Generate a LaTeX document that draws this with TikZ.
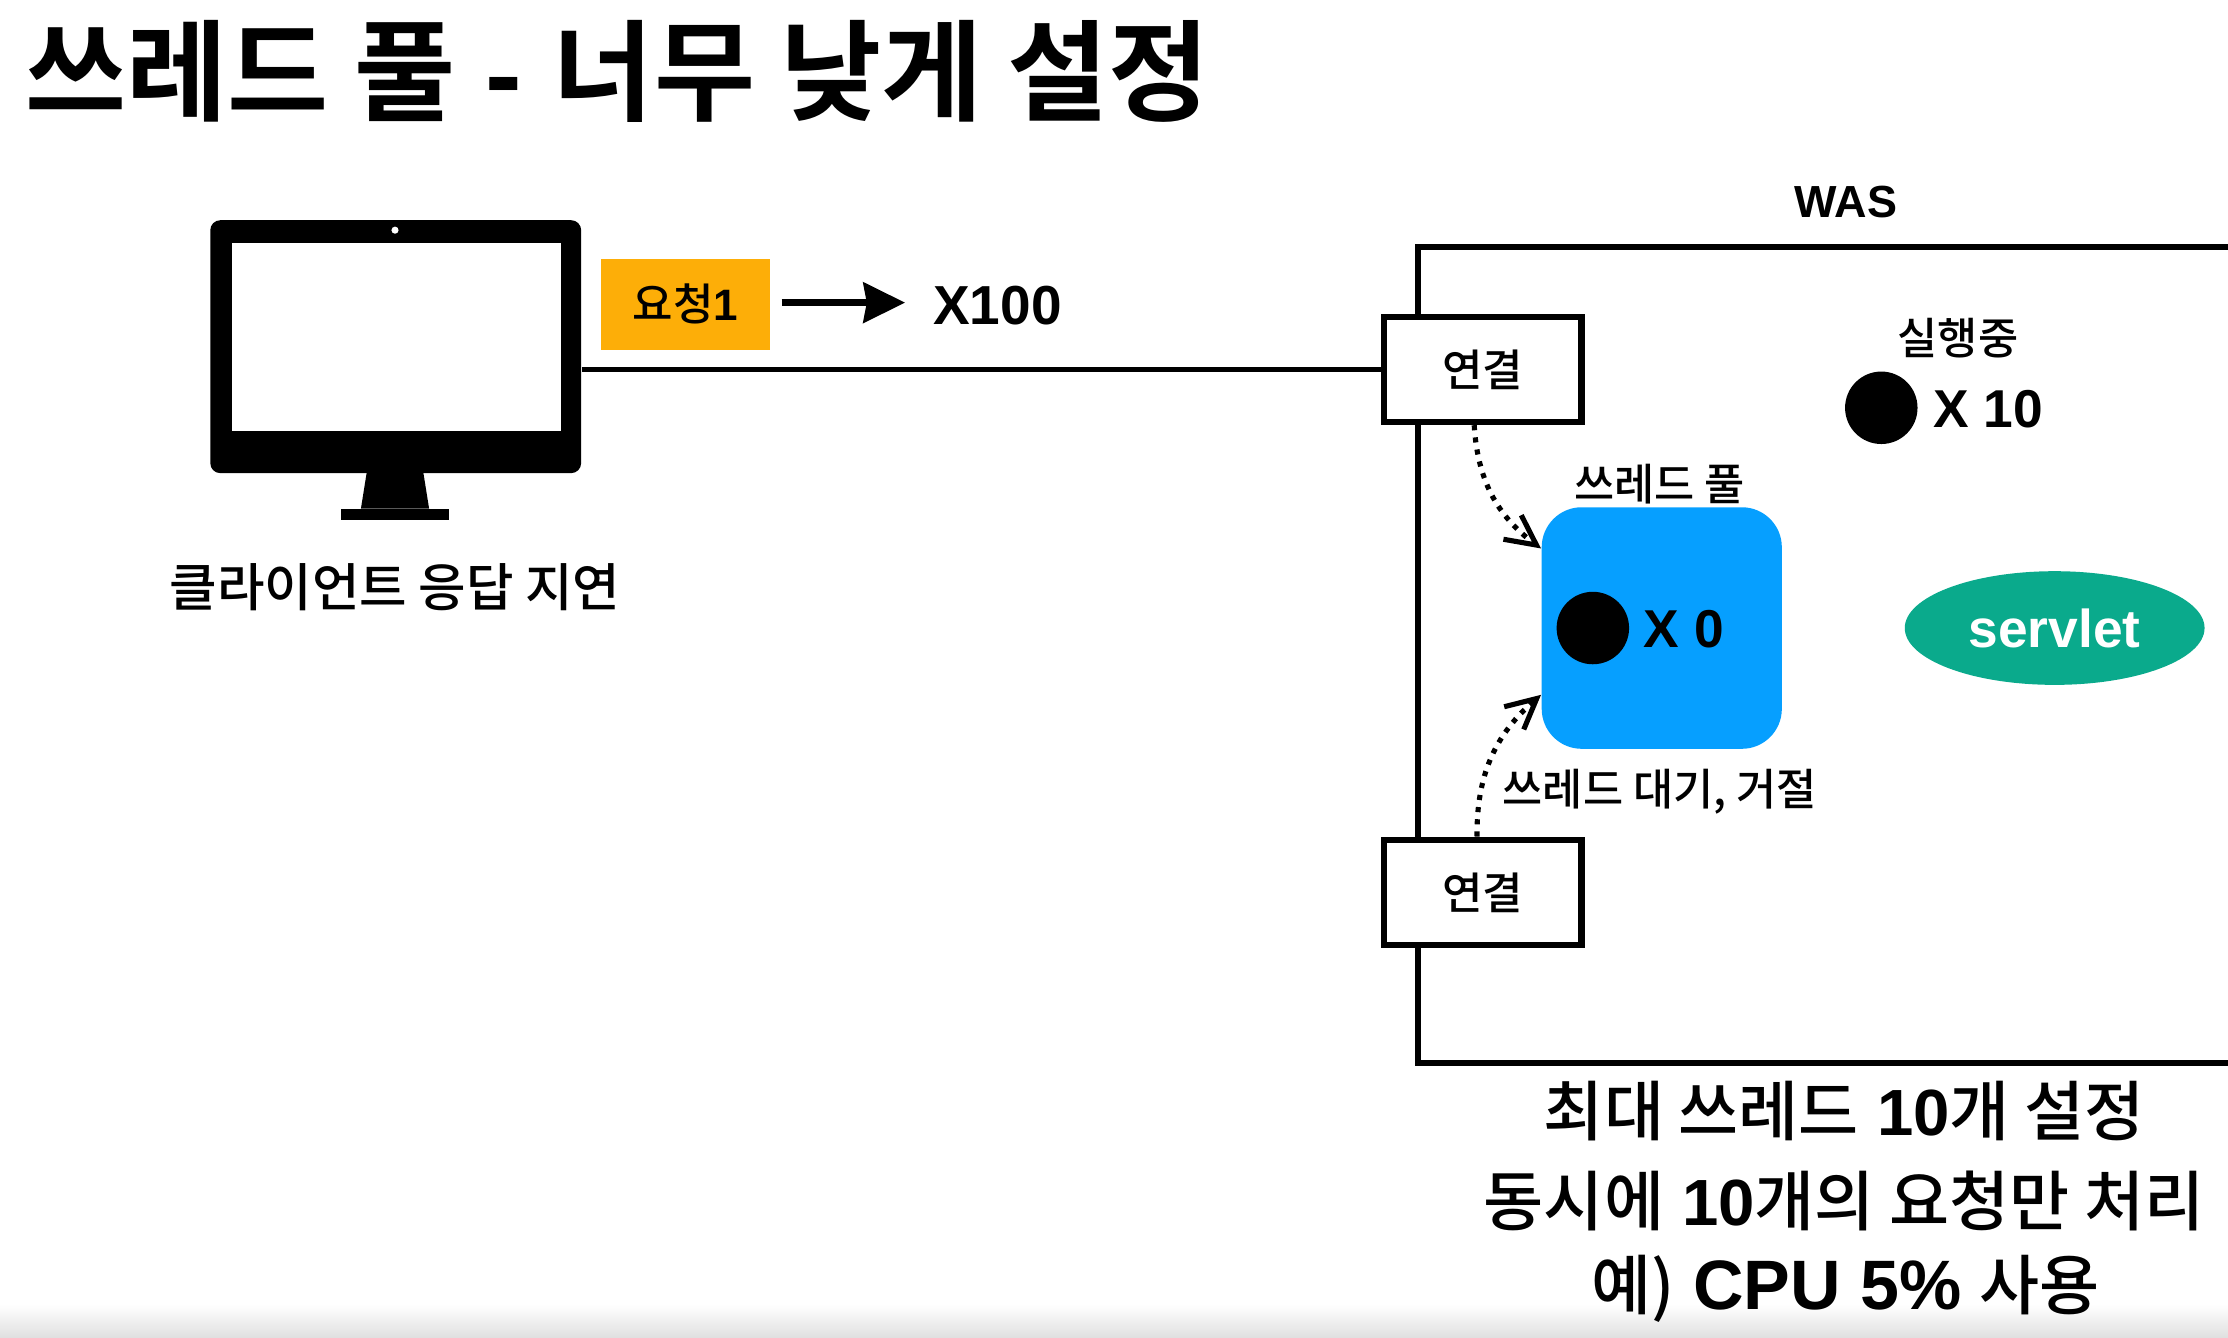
\documentclass[tikz,border=0pt]{standalone}
\usepackage{fontspec}
\setmainfont{Liberation Sans}
\newfontfamily\krfont[BoldFont={Noto Sans CJK KR Bold}]{Noto Sans CJK KR Medium}
\newcommand{\kr}[1]{{\krfont #1}}
\usetikzlibrary{arrows.meta}
\usetikzlibrary{shapes.geometric}
\definecolor{poolblue}{HTML}{069FFF}
\definecolor{reqorange}{HTML}{FDAE08}
\definecolor{servletgreen}{HTML}{0AAA8C}
\def\ux{0.4264pt}
\tikzstyle{connbox}=[draw,fill=white,line width=4.5*\ux,minimum width=139*\ux,minimum height=74*\ux,inner sep=0pt,font=\fontsize{13.2}{16}\selectfont]
\tikzstyle{smalllabel}=[inner sep=0pt,font=\fontsize{13.1}{16}\selectfont]
\tikzstyle{countlabel}=[inner sep=0pt,font=\fontsize{16}{19}\selectfont\bfseries]
\tikzstyle{threaddot}=[circle,fill=black,minimum size=51*\ux,inner sep=0pt]
\tikzstyle{waitarrow}=[-{Straight Barb[length=9pt,width=9pt]},line width=3.6*\ux,dash pattern=on 3.6*\ux off 5*\ux]
\tikzstyle{biglabel}=[inner sep=0pt,font=\fontsize{19.6}{23}\selectfont]
\begin{document}
\begin{tikzpicture}[x=\ux,y=-\ux]
  \useasboundingbox (0,0) rectangle (1568,941.6);
  \shade[top color=white,bottom color=gray!25] (0,918) rectangle (1568,941.6); % bottom edge
  \node[anchor=west,inner sep=0pt,font=\fontsize{33}{40}\selectfont\bfseries] (title) at (17.5,50) {\kr{쓰레드 풀} - \kr{너무 낮게 설정}};
  % client
  \node[fill=black,rounded corners=3pt,minimum width=261*\ux,minimum height=178*\ux,inner sep=0pt] (monitor) at (278.5,244) {};
  \node[fill=white,minimum width=232*\ux,minimum height=132*\ux,inner sep=0pt] (screen) at (279,237) {};
  \node[circle,fill=white,minimum size=5*\ux,inner sep=0pt] (camera) at (278,162) {};
  \fill (258,333) -- (298,333) -- (302,358) -- (254,358) -- cycle; % stand
  \fill (240,358) rectangle (316,366);
  \node[inner sep=0pt,font=\fontsize{15.5}{19}\selectfont] (clientlabel) at (278,413) {\kr{클라이언트 응답 지연}};
  \node[fill=reqorange,minimum width=119*\ux,minimum height=64*\ux,inner sep=0pt,font=\fontsize{13.2}{16}\selectfont] (request) at (482.5,214) {\kr{요청}\textbf{1}};
  \node[inner sep=0pt,font=\fontsize{16.5}{20}\selectfont\bfseries] (times) at (702,215) {X100};
  \coordinate (arrowstart) at (550,213);
  \coordinate (arrowend) at (637,213);
  \draw[-{Stealth[length=12.5pt,width=12pt,inset=1pt]},line width=5*\ux] (arrowstart) -- (arrowend);
  % was
  \node[draw,line width=4.5*\ux,minimum width=600*\ux,minimum height=574*\ux,inner sep=0pt] (was) at (1298,461) {};
  \node[inner sep=0pt,font=\fontsize{13.5}{16}\selectfont\bfseries] (waslabel) at (1299,142) {WAS};
  \node[connbox] (conntop) at (1043.5,260) {\kr{연결}};
  \node[connbox] (connbottom) at (1043.5,628) {\kr{연결}};
  \draw[line width=3.5*\ux] (monitor.east |- conntop.west) -- (conntop.west);
  \node[smalllabel] (running) at (1378,238) {\kr{실행중}};
  \node[threaddot] (rundot) at (1324,287) {};
  \node[countlabel] (runcount) at (1399,288) {X 10};
  \node[smalllabel] (poollabel) at (1168,341) {\kr{쓰레드 풀}};
  \node[fill=poolblue,rounded corners=12pt,minimum width=169*\ux,minimum height=170*\ux,inner sep=0pt] (pool) at (1169.5,442) {};
  \node[threaddot] (pooldot) at (1121,442) {};
  \node[countlabel] (poolcount) at (1185,443) {X 0};
  \node[ellipse,fill=servletgreen,minimum width=211*\ux,minimum height=80*\ux,inner sep=0pt,text=white,font=\fontsize{16}{20}\selectfont\bfseries] (servlet) at (1446,442) {servlet};
  \node[smalllabel] (waitlabel) at (1168,557) {\kr{쓰레드 대기, 거절}};
  \draw[waitarrow] ([xshift=-6*\ux]conntop.south) to[bend right=25] ([yshift=56*\ux]pool.west);
  \draw[waitarrow] ([xshift=-4*\ux]connbottom.north) to[bend left=25] ([yshift=-47*\ux]pool.west);
  % settings
  \node[biglabel] (line1) at (1298,782) {\kr{최대 쓰레드} \textbf{10}\kr{개 설정}};
  \node[biglabel] (line2) at (1298,845) {\kr{동시에} \textbf{10}\kr{개의 요청만 처리}};
  \node[biglabel] (line3) at (1299,907) {\kr{예)} {\fontsize{21}{23}\selectfont\textbf{CPU 5\%}} \kr{사용}};
\end{tikzpicture}
\end{document}
